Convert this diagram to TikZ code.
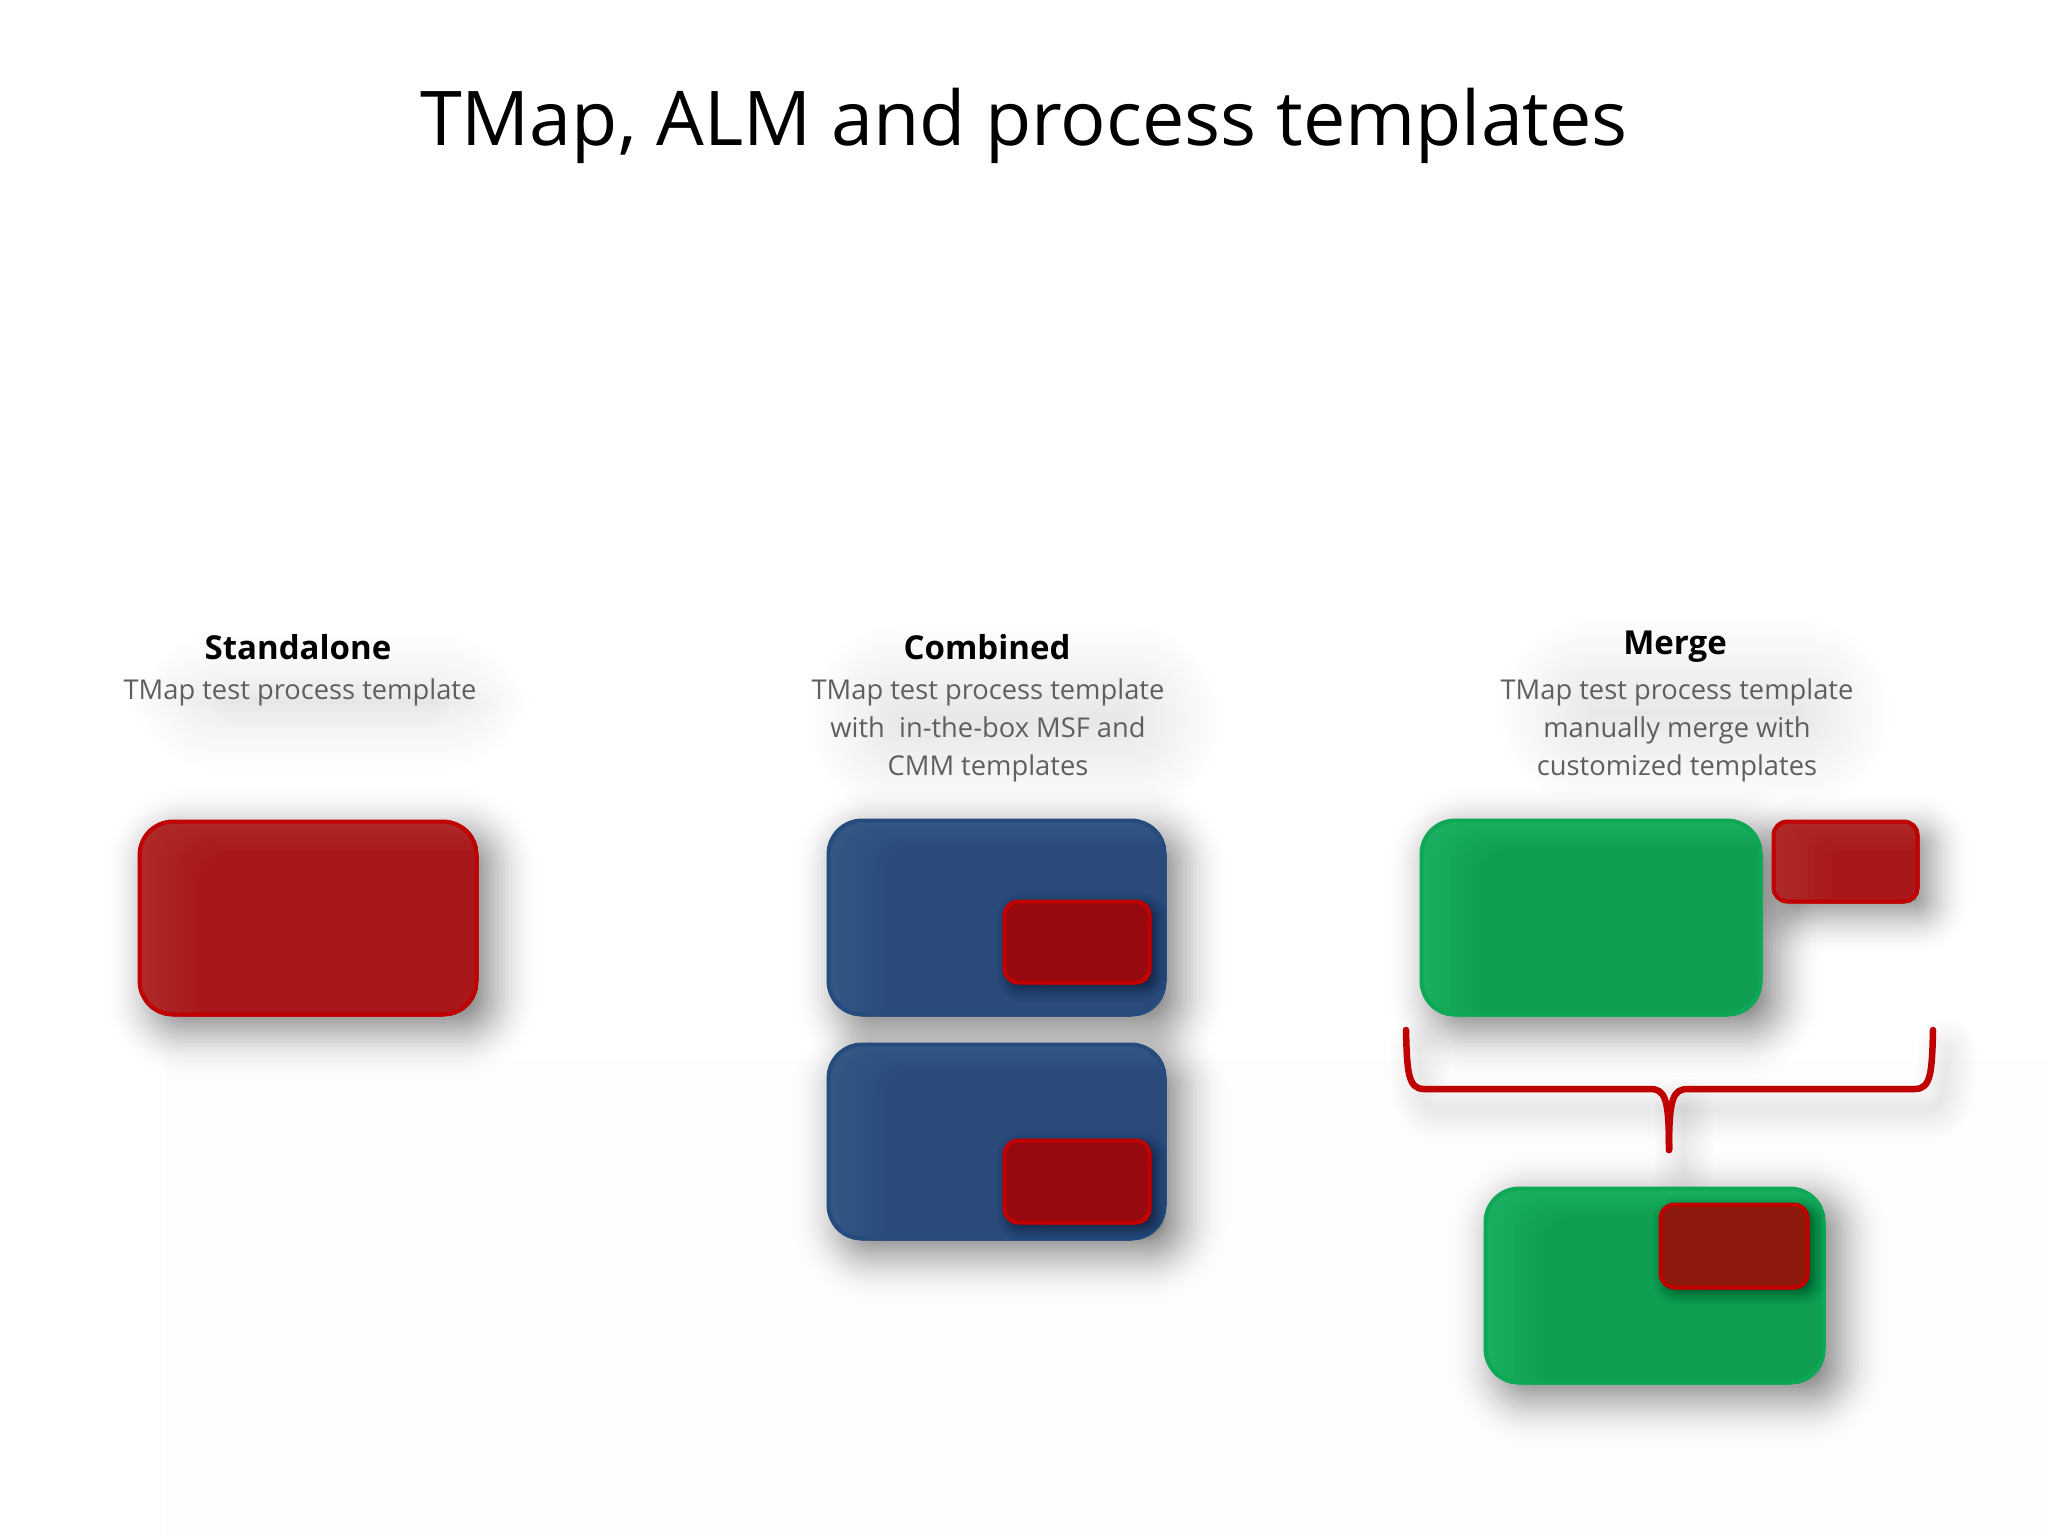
\documentclass[tikz,border=0pt]{standalone}
\usepackage{fontspec}
\setmainfont{Open Sans}
\definecolor{redfill}{HTML}{A8181A}
\definecolor{redlight}{HTML}{B02A2A}
\definecolor{redline}{HTML}{C00000}
\definecolor{bluefill}{HTML}{2A4A7A}
\definecolor{bluelight}{HTML}{335884}
\definecolor{blueline}{HTML}{264B7E}
\definecolor{greenfill}{HTML}{109E52}
\definecolor{greenlight}{HTML}{1AAF60}
\definecolor{greenline}{HTML}{0DA855}
\definecolor{innerblue}{HTML}{960A0F}
\definecolor{innergreen}{HTML}{8D1A0C}
\definecolor{subgrey}{HTML}{5F5F5F}
\definecolor{pagetint}{HTML}{FDFDFD}
\tikzset{
  titletext/.style={anchor=base,inner sep=0,font=\fontsize{75.5}{90}\selectfont,text=black},
  headtext/.style={anchor=base,inner sep=0,font=\fontsize{33}{40}\selectfont\bfseries,text=black},
  subtext/.style={anchor=north,inner sep=0,align=center,font=\fontsize{27.3}{38}\selectfont,text=subgrey},
  bracestroke/.style={draw=redline,line width=6.5pt,line cap=round,line join=round},
}
% #1 x1, #2 y1, #3 x2, #4 y2, #5 radius, #6 offset, #7 spread, #8 peak alpha per layer
\newcommand{\softshadow}[8]{%
  \foreach \k in {1,...,30}{%
    \pgfmathsetmacro\dd{#7*(1-\k/15)}%
    \pgfmathsetmacro\rr{max(#5+\dd,1)}%
    \pgfmathsetmacro\aa{max(#8*\k/30,0.004)}%
    \path[fill=black,fill opacity=\aa,rounded corners=\rr pt]
      ({#1+#6-\dd},{#2+#6-\dd}) rectangle ({#3+#6+\dd},{#4+#6+\dd});
  }%
}
% #1 name, #2 x1, #3 y1, #4 x2, #5 y2, #6 fill, #7 border, #8 radius, #9 light colour
\newcommand{\softbox}[9]{%
  \begin{scope}
    \clip[rounded corners=#8pt] (#2,#3) rectangle (#4,#5);
    \foreach \k in {0,...,10}{%
      \pgfmathtruncatemacro\mixv{\k*10}%
      \fill[#6!\mixv!#9,rounded corners=#8pt] ({#2+\k*6},{#3+\k*3}) rectangle ({#4+40},{#5+40});
    }%
  \end{scope}
  \pgfmathsetmacro\bw{#4-#2}%
  \pgfmathsetmacro\bh{#5-#3}%
  \node[draw=#7,line width=4pt,rounded corners=#8pt,inner sep=0,outer sep=0,
        minimum width=\bw pt-3pt,minimum height=\bh pt-3pt] (#1) at ({(#2+#4)/2},{(#3+#5)/2}) {};
}
% soft glow behind the captions
\newcommand{\textglow}[4]{%
  \foreach \k in {1,...,24}{%
    \pgfmathsetmacro\dd{50*(1-\k/12)}%
    \pgfmathsetmacro\rr{max(45+\dd,1)}%
    \path[fill=black,fill opacity=0.004,rounded corners=\rr pt]
      ({#1-\dd},{#2-\dd}) rectangle ({#3+\dd},{#4+\dd});
  }%
}
\begin{document}
\begin{tikzpicture}[x=1pt,y=-1pt]
\useasboundingbox (0,0) rectangle (2048,1536);
\fill[white] (0,0) rectangle (2048,1536);
\fill[pagetint] (165,1060) rectangle (2048,1536);

\node[titletext] (title) at (1024,146) {TMap, ALM and process templates};

% captions
\textglow{175}{680}{485}{725}
\textglow{855}{670}{1175}{770}
\textglow{1545}{665}{1845}{760}

\node[headtext] (h1) at (298,659) {Standalone};
\node[subtext]  (s1) at (300,679) {TMap test process template};
\node[headtext] (h2) at (987,659) {Combined};
\node[subtext]  (s2) at (988,679) {TMap test process template\\with\ \ in-the-box MSF and\\CMM templates};
\node[headtext] (h3) at (1675,654) {Merge};
\node[subtext]  (s3) at (1677,679) {TMap test process template\\manually merge with\\customized templates};

% shadows of the large boxes
\softshadow{138}{820}{478}{1016}{34}{14}{50}{0.07}
\softshadow{827}{819}{1166}{1016}{34}{14}{50}{0.07}
\softshadow{827}{1043}{1166}{1240}{34}{14}{50}{0.07}
\softshadow{1420}{819}{1762}{1016}{34}{14}{50}{0.07}
\softshadow{1772}{820}{1919}{903}{16}{12}{42}{0.06}
\softshadow{1484}{1187}{1825}{1384}{34}{14}{50}{0.07}

% brace shadow
\begin{scope}[shift={(14,20)}]
  \foreach \w in {60,54,...,6}{%
    \draw[black,opacity=.006,line width=\w pt,line join=round,line cap=round]
      (1405,1030) .. controls (1407,1075) and (1410,1089) .. (1425,1089) -- (1913,1089)
      .. controls (1928,1089) and (1931,1075) .. (1933,1030);
    \draw[black,opacity=.006,line width=\w pt,line cap=round] (1669,1089) -- (1669,1150);
  }
\end{scope}

% boxes
\softbox{standalone}{138}{820}{478}{1016}{redfill}{redline}{34}{redlight}
\softbox{blueA}{827}{819}{1166}{1016}{bluefill}{blueline}{34}{bluelight}
\softshadow{1003}{900}{1151}{984}{14}{5}{14}{0.05}
\softbox{innerA}{1003}{900}{1151}{984}{innerblue}{redline}{14}{innerblue}
\softbox{blueB}{827}{1043}{1166}{1240}{bluefill}{blueline}{34}{bluelight}
\softshadow{1003}{1139}{1151}{1224}{14}{5}{14}{0.05}
\softbox{innerB}{1003}{1139}{1151}{1224}{innerblue}{redline}{14}{innerblue}
\softbox{greenA}{1420}{819}{1762}{1016}{greenfill}{greenline}{34}{greenlight}
\softbox{smallred}{1772}{820}{1919}{903}{redfill}{redline}{14}{redlight}
\softbox{greenB}{1484}{1187}{1825}{1384}{greenfill}{greenline}{34}{greenlight}
\softshadow{1659}{1203}{1809}{1289}{14}{5}{14}{0.05}
\softbox{innerC}{1659}{1203}{1809}{1289}{innergreen}{redline}{14}{innergreen}

% brace
\draw[bracestroke]
  (1406,1030) .. controls (1407,1072) and (1408,1089) .. (1424,1089) -- (1650,1089)
  .. controls (1665,1089) and (1669,1098) .. (1669,1150);
\draw[bracestroke]
  (1933,1030) .. controls (1932,1072) and (1931,1089) .. (1915,1089) -- (1688,1089)
  .. controls (1673,1089) and (1669,1098) .. (1669,1150);
\end{tikzpicture}
\end{document}
